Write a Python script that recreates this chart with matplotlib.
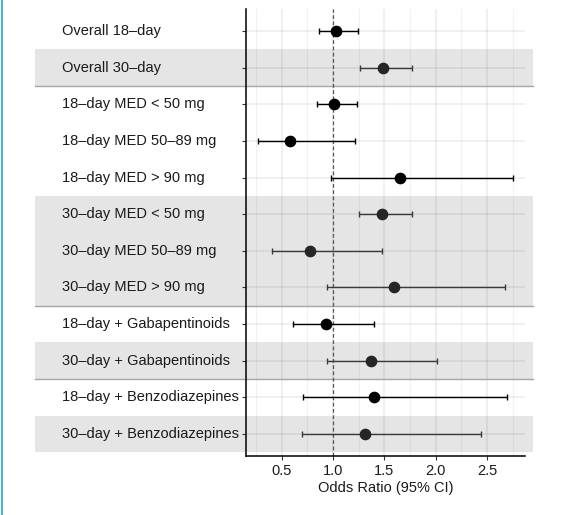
import matplotlib.pyplot as plt
from matplotlib.patches import Rectangle
from matplotlib.lines import Line2D

plt.rcParams['font.family'] = ['Liberation Sans', 'DejaVu Sans']

labels = [
    "Overall 18–day", "Overall 30–day",
    "18–day MED < 50 mg", "18–day MED 50–89 mg", "18–day MED > 90 mg",
    "30–day MED < 50 mg", "30–day MED 50–89 mg", "30–day MED > 90 mg",
    "18–day + Gabapentinoids", "30–day + Gabapentinoids",
    "18–day + Benzodiazepines", "30–day + Benzodiazepines",
]
odds = [1.03, 1.49, 1.01, 0.58, 1.65, 1.48, 0.78, 1.59, 0.93, 1.37, 1.40, 1.31]
ci_low = [0.86, 1.26, 0.84, 0.27, 0.98, 1.25, 0.41, 0.94, 0.61, 0.94, 0.71, 0.70]
ci_high = [1.24, 1.77, 1.23, 1.21, 2.75, 1.77, 1.48, 2.68, 1.40, 2.01, 2.70, 2.44]
shaded = [2, 6, 7, 8, 10, 12]
separators = [2.5, 8.5, 10.5]
xticks = [0.5, 1.0, 1.5, 2.0, 2.5]
minor_xticks = [0.25, 0.75, 1.25, 1.75, 2.25, 2.75]

fig = plt.figure(figsize=(5.65, 5.15), dpi=100)
ax = fig.add_axes([0.435, 0.1146, 0.494, 0.868])

rows = list(range(1, len(labels) + 1))
ax.set_xlim(0.15, 2.87)
ax.set_ylim(12.6, 0.4)

# shaded bands reaching into the label area
band_left, band_right = -0.754, 1.029
for r in shaded:
    ax.add_patch(Rectangle((band_left, r - 0.5), band_right - band_left, 1.0,
                           transform=ax.get_yaxis_transform(), facecolor='#e5e5e5',
                           edgecolor='none', clip_on=False, zorder=0))
for s in separators:
    ax.add_line(Line2D([band_left, band_right], [s, s], transform=ax.get_yaxis_transform(),
                       color='#a6a6a6', lw=1.0, clip_on=False, zorder=1))

ax.set_xticks(xticks)
ax.set_xticklabels([f"{t:.1f}" for t in xticks])
ax.set_xticks(minor_xticks, minor=True)
ax.set_yticks(rows)
ax.set_yticklabels([])
ax.grid(True, which='major', color='black', alpha=0.075, lw=1.1)
ax.grid(True, which='minor', axis='x', color='black', alpha=0.05, lw=0.8)
ax.set_axisbelow(True)
ax.set_facecolor('none')

ax.axvline(1.0, color='#555555', lw=0.9, ls=(0, (3, 2)), zorder=2)

for r, o, lo, hi in zip(rows, odds, ci_low, ci_high):
    c = '#262626' if r in shaded else 'black'
    ec = '#3a3a3a' if r in shaded else 'black'
    ax.errorbar(o, r, xerr=[[o - lo], [hi - o]], fmt='none', ecolor=ec,
                elinewidth=1.0, capsize=2.3, capthick=1.0, zorder=3)
    ax.plot(o, r, 'o', color=c, markersize=7.4, zorder=4)

for r, lab in zip(rows, labels):
    ax.text(-0.658, r, lab, transform=ax.get_yaxis_transform(), ha='left',
            va='center', fontsize=10.5, color='#1a1a1a')

for side in ['top', 'right']:
    ax.spines[side].set_visible(False)
for side in ['left', 'bottom']:
    ax.spines[side].set_color('black')
    ax.spines[side].set_linewidth(1.1)

ax.tick_params(axis='both', which='major', length=3, color='#333333',
               labelsize=10.5, labelcolor='#1a1a1a', pad=3)
ax.tick_params(axis='x', which='minor', length=0)
ax.set_xlabel("Odds Ratio (95% CI)", fontsize=10.5, color='#1a1a1a', labelpad=2)

fig.add_artist(Line2D([1.5 / 565, 1.5 / 565], [0, 1], transform=fig.transFigure,
                      color='#2fb3d1', lw=1.3))

fig.savefig('out.png', dpi=100)
